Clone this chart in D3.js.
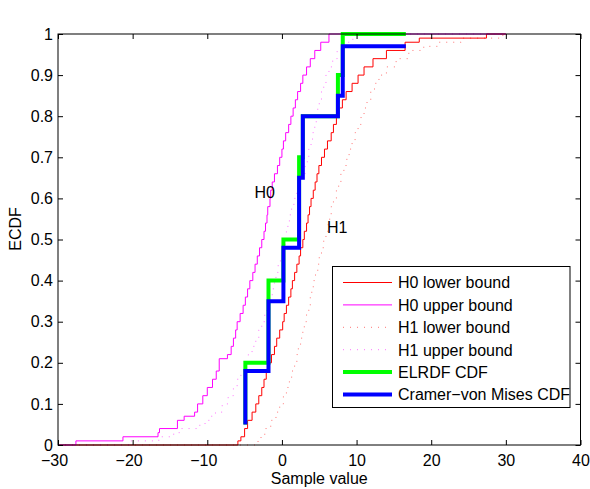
<!DOCTYPE html>
<html>
<head>
<meta charset="utf-8">
<script src="https://cdn.jsdelivr.net/npm/d3@7"></script>
<style>
  html, body { margin: 0; padding: 0; background: #fff; }
  svg { display: block; font-family: "Liberation Sans", Arial, Helvetica, sans-serif; }
</style>
</head>
<body>
<svg id="chart" width="590" height="489"></svg>
<script>
// ---------------- data ----------------
const xTicks = [-30, -20, -10, 0, 10, 20, 30, 40];
const xTickLabels = ["\u221230", "\u221220", "\u221210", "0", "10", "20", "30", "40"];
const yTicks = [0, 0.1, 0.2, 0.3, 0.4, 0.5, 0.6, 0.7, 0.8, 0.9, 1];
const yTickLabels = ["0", "0.1", "0.2", "0.3", "0.4", "0.5", "0.6", "0.7", "0.8", "0.9", "1"];

const seriesNames = ["H0 lower bound", "H0 upper bound", "H1 lower bound", "H1 upper bound", "ELRDF CDF", "Cramer\u2212von Mises CDF"];

// H0 lower bound (red solid)
const h0LowerX = [-30, -5.9, -5.5, -5.0, -4.6, -4.0, -3.5, -3.1, -2.7, -2.4, -2.1, -1.8, -1.4, -1.0, -0.7, -0.3, 0.1, 0.3, 0.6, 0.9, 1.2, 1.4, 1.7, 2.0, 2.3, 2.5, 2.8, 3.0, 3.3, 3.5, 3.7, 3.9, 4.2, 4.45, 4.7, 4.95, 5.3, 5.7, 6.1, 6.6, 6.9, 7.3, 7.7, 8.1, 8.6, 9.4, 10.2, 11.0, 12.2, 14.0, 16.5, 18.4, 27.4, 30];
const h0LowerY = [0, 0.01, 0.02, 0.04, 0.06, 0.08, 0.10, 0.12, 0.14, 0.16, 0.18, 0.20, 0.22, 0.24, 0.26, 0.28, 0.30, 0.32, 0.34, 0.36, 0.38, 0.40, 0.42, 0.44, 0.46, 0.48, 0.50, 0.52, 0.54, 0.56, 0.58, 0.60, 0.62, 0.64, 0.66, 0.68, 0.70, 0.72, 0.74, 0.76, 0.78, 0.80, 0.82, 0.84, 0.86, 0.88, 0.90, 0.92, 0.94, 0.96, 0.98, 0.99, 1.00, 1.00];

// H0 upper bound (magenta solid)
const h0UpperX = [-30, -27.6, -21.3, -16.6, -16.4, -14.0, -13.1, -11.7, -11.3, -10.6, -10.0, -9.3, -8.8, -8.4, -7.3, -6.8, -6.5, -6.2, -6.0, -5.6, -5.2, -4.9, -4.6, -4.3, -3.9, -3.6, -3.3, -3.0, -2.7, -2.4, -2.2, -2.0, -1.9, -1.6, -1.5, -1.3, -1.0, -0.6, -0.3, 0.0, 0.2, 0.5, 0.9, 1.2, 1.5, 1.8, 2.1, 2.5, 2.8, 3.3, 3.8, 4.4, 5.2, 6.3, 30];
const h0UpperY = [0, 0.01, 0.02, 0.03, 0.04, 0.06, 0.07, 0.08, 0.10, 0.12, 0.14, 0.16, 0.18, 0.21, 0.22, 0.24, 0.26, 0.28, 0.30, 0.32, 0.34, 0.36, 0.38, 0.40, 0.42, 0.44, 0.46, 0.48, 0.50, 0.52, 0.54, 0.56, 0.58, 0.60, 0.62, 0.64, 0.66, 0.68, 0.70, 0.72, 0.74, 0.76, 0.78, 0.80, 0.82, 0.84, 0.86, 0.88, 0.90, 0.92, 0.94, 0.96, 0.98, 1.00, 1.00];

// H1 lower bound (red dotted)
const h1LowerX = [-30, -3.2, -2.8, -2.3, -1.5, -0.8, -0.3, 0.2, 0.6, 1.0, 1.3, 1.7, 2.0, 2.2, 2.5, 2.8, 3.0, 3.3, 3.6, 3.8, 4.0, 4.2, 4.5, 4.8, 5.0, 5.3, 5.6, 5.9, 6.2, 6.4, 6.6, 6.9, 7.3, 7.6, 7.9, 8.3, 8.7, 9.0, 9.4, 9.8, 10.2, 10.6, 11.0, 11.4, 11.9, 12.4, 13.0, 14.0, 15.3, 17.0, 19.0, 21.0, 24.0, 29.6, 30];
const h1LowerY = [0, 0.01, 0.02, 0.04, 0.06, 0.08, 0.10, 0.12, 0.14, 0.16, 0.18, 0.20, 0.22, 0.24, 0.26, 0.28, 0.30, 0.32, 0.34, 0.36, 0.38, 0.40, 0.42, 0.44, 0.46, 0.48, 0.50, 0.52, 0.54, 0.56, 0.58, 0.60, 0.62, 0.64, 0.66, 0.68, 0.70, 0.72, 0.74, 0.76, 0.78, 0.80, 0.82, 0.84, 0.86, 0.88, 0.90, 0.92, 0.94, 0.96, 0.97, 0.98, 0.99, 1.00, 1.00];

// H1 upper bound (magenta dotted)
const h1UpperX = [-30, -20.5, -16.5, -14.5, -13.5, -11.0, -10.3, -9.6, -8.9, -8.0, -7.2, -6.5, -6.0, -5.5, -5.0, -4.5, -4.0, -3.5, -3.1, -2.7, -2.3, -2.0, -1.6, -1.3, -1.0, -0.8, -0.5, -0.2, 0.1, 0.4, 0.6, 0.8, 1.0, 1.3, 1.6, 2.0, 2.4, 2.8, 3.1, 3.4, 3.6, 3.9, 4.1, 4.4, 4.6, 4.8, 5.0, 5.3, 5.6, 5.9, 6.3, 6.8, 7.4, 8.2, 9.5, 30];
const h1UpperY = [0, 0.01, 0.02, 0.03, 0.04, 0.05, 0.06, 0.07, 0.08, 0.10, 0.12, 0.14, 0.16, 0.18, 0.20, 0.22, 0.24, 0.26, 0.28, 0.30, 0.32, 0.34, 0.36, 0.38, 0.40, 0.42, 0.44, 0.46, 0.48, 0.50, 0.52, 0.54, 0.56, 0.58, 0.60, 0.62, 0.64, 0.66, 0.68, 0.70, 0.72, 0.74, 0.76, 0.78, 0.80, 0.82, 0.84, 0.86, 0.88, 0.90, 0.92, 0.94, 0.96, 0.98, 1.00, 1.00];

// ELRDF CDF (green)
const elrdfX = [-4.9, -4.9, -1.8, 0.2, 2.3, 2.8, 7.5, 8.15, 16.6];
const elrdfY = [0.05, 0.20, 0.40, 0.50, 0.70, 0.80, 0.90, 1.00, 1.00];

// Cramer-von Mises CDF (blue)
const cvmX = [-4.9, -4.9, -1.8, 0.2, 2.3, 2.8, 7.5, 8.15, 16.6];
const cvmY = [0.05, 0.18, 0.35, 0.48, 0.65, 0.80, 0.85, 0.97, 0.97];

// annotations
const annotations = [
  { text: "H0", x: -2.3, y: 0.6 },
  { text: "H1", x: 7.4, y: 0.515 }
];

// ---------------- chart ----------------
const svg = d3.select("#chart");
const pL = 58, pR = 580.5, pT = 34, pB = 445;

const x = d3.scaleLinear().domain([-30, 40]).range([pL, pR]);
const y = d3.scaleLinear().domain([0, 1]).range([pB, pT]);

svg.append("rect").attr("width", 590).attr("height", 489).attr("fill", "#fff");

svg.append("defs").append("clipPath").attr("id", "plotclip")
  .append("rect").attr("x", pL).attr("y", pT - 3)
  .attr("width", pR - pL + 1).attr("height", pB - pT + 4);

const zip = (xs, ys) => xs.map((v, i) => [v, ys[i]]);
const line = d3.line().x(d => x(d[0])).y(d => y(d[1])).curve(d3.curveStepAfter);

const series = [
  { name: seriesNames[0], data: zip(h0LowerX, h0LowerY), color: "#ff0000", width: 1, dash: null, opacity: 1 },
  { name: seriesNames[1], data: zip(h0UpperX, h0UpperY), color: "#ff00ff", width: 1, dash: null, opacity: 1 },
  { name: seriesNames[2], data: zip(h1LowerX, h1LowerY), color: "#ff0000", width: 1, dash: "1,6", opacity: 0.55 },
  { name: seriesNames[3], data: zip(h1UpperX, h1UpperY), color: "#ff00ff", width: 1, dash: "1,6", opacity: 0.55 },
  { name: seriesNames[4], data: zip(elrdfX, elrdfY), color: "#00ff00", width: 4, dash: null, opacity: 1 },
  { name: seriesNames[5], data: zip(cvmX, cvmY), color: "#0000ff", width: 4, dash: null, opacity: 1 }
];

const plot = svg.append("g").attr("clip-path", "url(#plotclip)");
series.forEach(s => {
  plot.append("path")
    .attr("d", line(s.data))
    .attr("fill", "none")
    .attr("stroke", s.color)
    .attr("stroke-width", s.width)
    .attr("stroke-opacity", s.opacity)
    .attr("stroke-linejoin", "miter")
    .attr("stroke-dasharray", s.dash);
});

// axes
const fontSize = 16;
const xAxis = d3.axisBottom(x).tickValues(xTicks)
  .tickFormat((d, i) => xTickLabels[i]).tickSizeInner(-5).tickSizeOuter(0).tickPadding(10);
const gx = svg.append("g").attr("transform", `translate(0,${pB})`).call(xAxis);
gx.selectAll("text").attr("font-size", fontSize)
  .attr("dx", (d, i) => xTickLabels[i].startsWith("\u2212") ? -4 : 0);

const yAxis = d3.axisLeft(y).tickValues(yTicks)
  .tickFormat((d, i) => yTickLabels[i]).tickSizeInner(-5).tickSizeOuter(0).tickPadding(5);
const gy = svg.append("g").attr("transform", `translate(${pL},0)`).call(yAxis);
gy.selectAll("text").attr("font-size", fontSize);

const xTop = d3.axisTop(x).tickValues(xTicks).tickFormat("").tickSizeInner(-5).tickSizeOuter(0);
svg.append("g").attr("transform", `translate(0,${pT})`).call(xTop);
const yRight = d3.axisRight(y).tickValues(yTicks).tickFormat("").tickSizeInner(-5).tickSizeOuter(0);
svg.append("g").attr("transform", `translate(${pR},0)`).call(yRight);

svg.selectAll(".domain").remove();
svg.selectAll("g.tick line").attr("stroke", "#000");
svg.selectAll("g.tick text").attr("fill", "#000");
svg.selectAll("g").filter(function () { return this.hasAttribute("font-family"); })
  .attr("font-family", null).attr("font-size", null);

svg.append("rect")
  .attr("x", pL).attr("y", pT)
  .attr("width", pR - pL).attr("height", pB - pT)
  .attr("fill", "none").attr("stroke", "#000").attr("stroke-width", 1);

// axis labels
svg.append("text")
  .attr("x", (pL + pR) / 2).attr("y", 484)
  .attr("text-anchor", "middle").attr("font-size", fontSize)
  .text("Sample value");
svg.append("text")
  .attr("transform", `translate(21,229) rotate(-90)`)
  .attr("text-anchor", "middle").attr("font-size", fontSize)
  .text("ECDF");

// annotations
annotations.forEach(a => {
  svg.append("text")
    .attr("x", x(a.x)).attr("y", y(a.y))
    .attr("text-anchor", "middle").attr("font-size", fontSize)
    .text(a.text);
});

// legend
const lg = svg.append("g");
lg.append("rect")
  .attr("x", 332.5).attr("y", 266.5).attr("width", 237.5).attr("height", 141)
  .attr("fill", "#fff").attr("stroke", "#000").attr("stroke-width", 1);
series.forEach((s, i) => {
  const cy = 282.5 + i * 22.4;
  lg.append("line")
    .attr("x1", 343).attr("x2", 392).attr("y1", cy).attr("y2", cy)
    .attr("stroke", s.color).attr("stroke-width", s.width)
    .attr("stroke-opacity", s.opacity)
    .attr("stroke-dasharray", s.dash);
  lg.append("text")
    .attr("x", 398).attr("y", cy + 5.8)
    .attr("font-size", fontSize)
    .text(s.name);
});
</script>
</body>
</html>
